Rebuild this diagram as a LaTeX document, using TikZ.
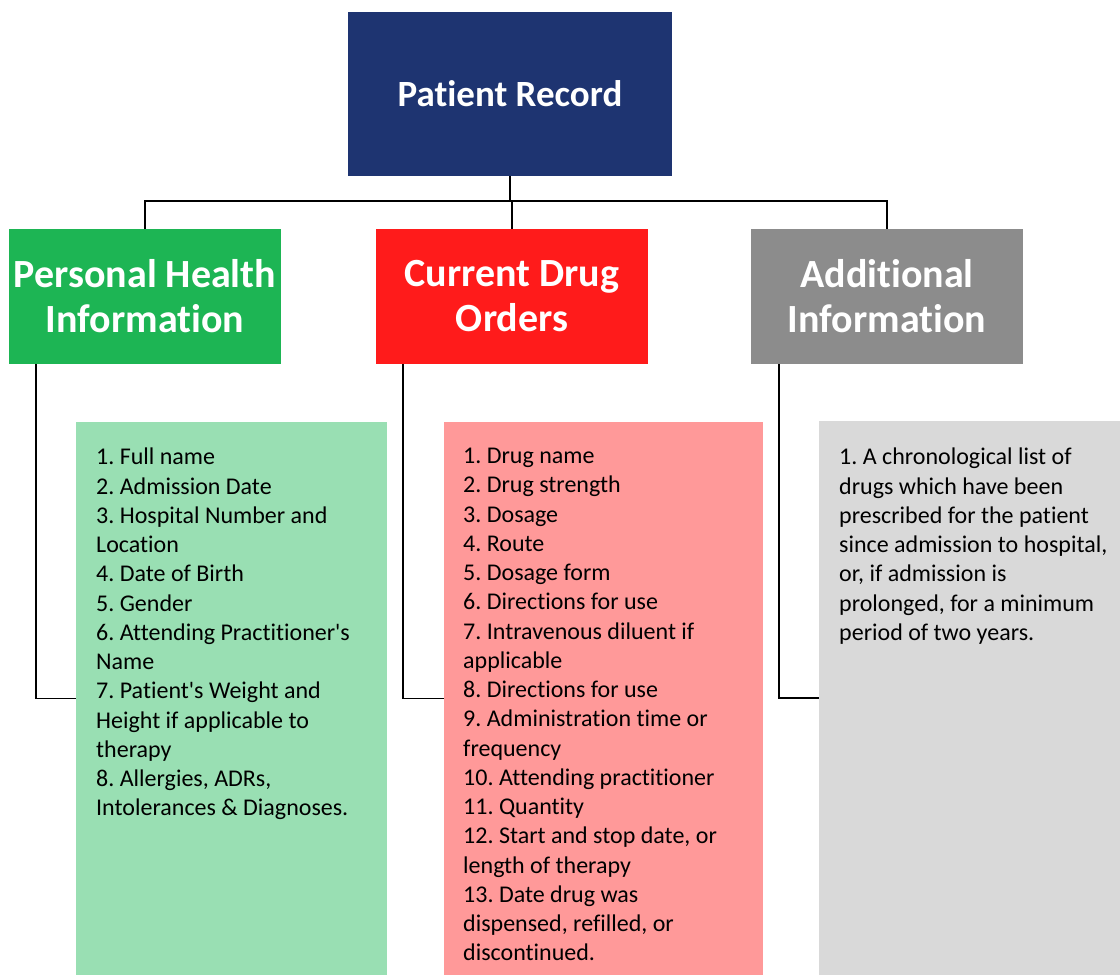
\documentclass[tikz,border=0pt]{standalone}
\usepackage{fontspec}
\setmainfont[Ligatures=NoCommon]{Carlito}
\usetikzlibrary{positioning}

\definecolor{rootblue}{HTML}{1E3471}
\definecolor{phigreen}{HTML}{1DB554}
\definecolor{cdored}{HTML}{FF1B1B}
\definecolor{adogrey}{HTML}{8C8C8C}
\definecolor{philight}{HTML}{99DFB3}
\definecolor{cdolight}{HTML}{FF9999}
\definecolor{adolight}{HTML}{D9D9D9}

\tikzset{
  headbox/.style={fill=#1, text=white, minimum width=272pt, minimum height=135pt,
    inner sep=0pt, align=center, font=\fontsize{40}{45}\selectfont\bfseries},
  listbox/.style={fill=#1, inner sep=0pt, anchor=north west},
  listtext/.style={anchor=north west, inner sep=0pt, align=left,
    font=\fontsize{24}{29.25}\selectfont\frenchspacing},
  link/.style={draw=black, line width=1.5pt}
}

\begin{document}
\begin{tikzpicture}[x=1pt,y=1pt]
      \useasboundingbox (0,0) rectangle (1120,-975);
      \node[fill=rootblue, text=white, minimum width=324pt, minimum height=164pt, inner sep=0pt,
        font=\fontsize{37}{44}\selectfont\bfseries] (root) at (510,-94) {Patient Record};
      \node[headbox=phigreen] (phi) at (145,-296.5) {Personal Health\\Information};
      \node[headbox=cdored] (cdo) at (512,-296.5) {Current Drug\\Orders};
      \node[headbox=adogrey] (ado) at (887,-296.5) {Additional\\Information};

      \node[listbox=philight, minimum width=311pt, minimum height=553pt] (phibox) at (76,-422) {};
      \node[listbox=cdolight, minimum width=319pt, minimum height=553pt] (cdobox) at (444,-422) {};
      \node[listbox=adolight, minimum width=301pt, minimum height=554pt] (adobox) at (819,-421) {};

      \draw[link] (root.south) -- ++(0,-25) coordinate (bus);
      \draw[link] (phi.north) |- (bus) -| (ado.north);
      \draw[link] (bus) -| (cdo.north);
      \draw[link] ([xshift=27pt]phi.south west) |- (phibox.west);
      \draw[link] ([xshift=27pt]cdo.south west) |- (cdobox.west);
      \draw[link] ([xshift=28pt]ado.south west) |- (adobox.west);

      \node[listtext] (phitext) at (96,-448) {1. Full name\\2. Admission Date\\3. Hospital Number and\\Location\\4. Date of Birth\\5. Gender\\6. Attending Practitioner\textquotesingle s\\Name\\7. Patient\textquotesingle s Weight and\\Height if applicable to\\therapy\\8. Allergies, ADRs,\\Intolerances \& Diagnoses.};
      \node[listtext] (cdotext) at (463,-448) {1. Drug name\\2. Drug strength\\3. Dosage\\4. Route\\5. Dosage form\\6. Directions for use\\7. Intravenous diluent if\\applicable\\8. Directions for use\\9. Administration time or\\frequency\\10. Attending practitioner\\11. Quantity\\12. Start and stop date, or\\length of therapy\\13. Date drug was\\dispensed, refilled, or\\discontinued.};
      \node[listtext] (adotext) at (839,-448) {1. A chronological list of\\drugs which have been\\prescribed for the patient\\since admission to hospital,\\or, if admission is\\prolonged, for a minimum\\period of two years.};
    \end{tikzpicture}
\end{document}
